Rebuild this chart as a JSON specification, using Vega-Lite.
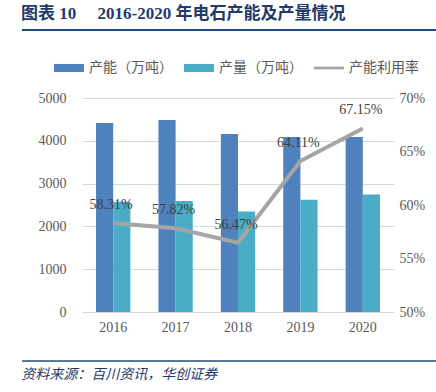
{
  "$schema": "https://vega.github.io/schema/vega-lite/v6.json",
  "background": "white",
  "padding": {"left": 21, "top": 5, "right": 0, "bottom": 0},
  "columns": 1,
  "spacing": {"row": 22},
  "resolve": {"scale": {"x": "independent", "y": "independent", "color": "independent"}, "legend": {"color": "independent"}},
  "config": {
    "view": {"stroke": null},
    "axis": {"labelFont": "Liberation Serif", "labelFontSize": 14, "labelColor": "#595959"}
  },
  "datasets": {
    "bars": [
      {"year": "2016", "series": "产能（万吨）", "value": 4416},
      {"year": "2016", "series": "产量（万吨）", "value": 2575},
      {"year": "2017", "series": "产能（万吨）", "value": 4486},
      {"year": "2017", "series": "产量（万吨）", "value": 2594},
      {"year": "2018", "series": "产能（万吨）", "value": 4159},
      {"year": "2018", "series": "产量（万吨）", "value": 2349},
      {"year": "2019", "series": "产能（万吨）", "value": 4089},
      {"year": "2019", "series": "产量（万吨）", "value": 2621},
      {"year": "2020", "series": "产能（万吨）", "value": 4089},
      {"year": "2020", "series": "产量（万吨）", "value": 2746}
    ],
    "rate": [
      {"year": "2016", "rate": 0.5831},
      {"year": "2017", "rate": 0.5782},
      {"year": "2018", "rate": 0.5647},
      {"year": "2019", "rate": 0.6411},
      {"year": "2020", "rate": 0.6715}
    ]
  },
  "concat": [
    {
      "width": 355,
      "height": 7,
      "title": {"text": "图表 10\u2003 2016-2020 年电石产能及产量情况", "anchor": "start", "font": "Liberation Serif, Noto Sans CJK SC", "fontSize": 17, "fontWeight": "bold", "color": "#1F3A6B", "offset": 0},
      "data": {"values": [{}]},
      "mark": {"type": "rule", "stroke": "#1F4E79", "strokeWidth": 2},
      "encoding": {
        "x": {"datum": 0, "type": "quantitative", "scale": {"domain": [0, 1], "range": [-60, 355]}, "axis": null},
        "x2": {"datum": 1},
        "y": {"datum": 0, "type": "quantitative", "scale": {"domain": [0, 1]}, "axis": null}
      }
    },
    {
      "width": 312,
      "height": 214,
      "layer": [
        {
          "data": {"name": "bars"},
          "mark": {"type": "bar"},
          "encoding": {
            "x": {"field": "year", "type": "nominal", "scale": {"paddingInner": 0.45, "paddingOuter": 0.225},
                  "axis": {"title": null, "domain": false, "ticks": false, "labelPadding": 8, "labelAngle": 0}},
            "xOffset": {"field": "series", "sort": ["产能（万吨）", "产量（万吨）"]},
            "y": {"field": "value", "type": "quantitative", "scale": {"domain": [0, 5000]},
                  "axis": {"title": null, "values": [0, 1000, 2000, 3000, 4000, 5000], "format": "d", "grid": true, "gridColor": "#D9D9D9", "domain": false, "ticks": false, "labelPadding": 16, "minExtent": 60}},
            "color": {"field": "series", "type": "nominal",
                      "scale": {"domain": ["产能（万吨）", "产量（万吨）", "产能利用率"], "range": ["#4F81BD", "#4BACC6", "#A5A5A5"]},
                      "legend": {"orient": "none", "legendX": -28, "legendY": -45, "direction": "horizontal", "title": null, "symbolSize": 900, "symbolStrokeWidth": 0,
                                 "labelFont": "Noto Sans CJK SC", "labelFontSize": 14, "labelColor": "#595959", "labelOffset": 5, "columnPadding": 11,
                                 "encode": {"symbols": {"update": {"shape": {"signal": "datum.value === '产能利用率' ? 'M-1,-0.09L1,-0.09L1,0.09L-1,0.09Z' : 'M-1,-0.27L1,-0.27L1,0.27L-1,0.27Z'"}}}}}}
          }
        },
        {
          "data": {"name": "rate"},
          "encoding": {
            "x": {"field": "year", "type": "nominal"},
            "y": {"field": "rate", "type": "quantitative", "scale": {"domain": [0.5, 0.7]},
                  "axis": {"orient": "right", "title": null, "values": [0.5, 0.55, 0.6, 0.65, 0.7], "format": ".0%", "grid": false, "domain": false, "ticks": false, "labelPadding": 5}}
          },
          "layer": [
            {"mark": {"type": "line", "strokeWidth": 4}, "encoding": {"color": {"datum": "产能利用率"}}},
            {"mark": {"type": "text", "dy": -18, "dx": -2, "font": "Liberation Serif", "fontSize": 14, "color": "#404040"},
             "encoding": {"text": {"field": "rate", "format": ".2%"}}}
          ]
        }
      ],
      "resolve": {"scale": {"y": "independent"}}
    },
    {
      "width": 355,
      "height": 5,
      "title": {"text": "资料来源：百川资讯，华创证券", "orient": "bottom", "anchor": "start", "font": "Noto Sans CJK SC", "fontSize": 14, "fontStyle": "italic", "fontWeight": "normal", "color": "#1F3A6B", "offset": 6},
      "data": {"values": [{}]},
      "mark": {"type": "rule", "stroke": "#1F4E79", "strokeWidth": 1.5},
      "encoding": {
        "x": {"datum": 0, "type": "quantitative", "scale": {"domain": [0, 1], "range": [-60, 355]}, "axis": null},
        "x2": {"datum": 1},
        "y": {"datum": 0, "type": "quantitative", "scale": {"domain": [0, 1]}, "axis": null}
      }
    }
  ]
}
